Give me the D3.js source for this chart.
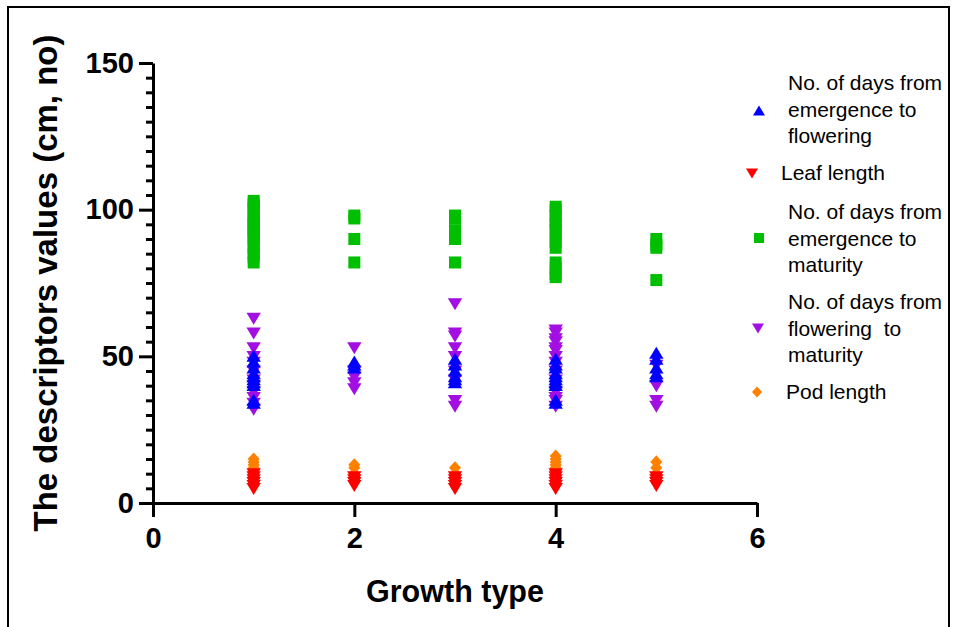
<!DOCTYPE html>
<html>
<head>
<meta charset="utf-8">
<script src="https://cdn.jsdelivr.net/npm/d3@7"></script>
<style>
  body { margin: 0; background: #fff; }
  svg { display: block; font-family: "Liberation Sans", Arial, sans-serif; }
</style>
</head>
<body>
<div id="chart"></div>
<script>
const width = 957;
const height = 627;

// growth types on the x axis
const growthTypes = [1, 2, 3, 4, 5];

// values per growth type (same order as growthTypes)
const emergenceToFlowering = [
  [50, 48, 46, 44, 43, 42, 41, 40, 35, 34],
  [48, 47, 46],
  [49, 47, 45, 43, 42, 41],
  [49, 47, 46, 44, 43, 42, 41, 40, 35, 34],
  [51, 49, 46, 44, 43]
];
const leafLength = [
  [10, 9, 8, 7, 6, 5],
  [9, 8, 7, 6],
  [9, 8, 7, 6, 5],
  [10, 9, 8, 7, 6, 5],
  [9, 8, 7, 6]
];
const emergenceToMaturity = [
  [103, 102, 101, 100, 98, 97, 96, 95, 94, 93, 92, 91, 90, 88, 87, 85, 84, 82],
  [98, 97, 90, 82],
  [98, 97, 93, 92, 90, 82],
  [101, 100, 98, 96, 95, 93, 91, 89, 87, 82, 80, 78, 77],
  [90, 88, 87, 76]
];
const floweringToMaturity = [
  [63, 58, 53, 50, 48, 45, 42, 40, 38, 36, 34, 32],
  [53, 45, 43, 41, 39],
  [68, 58, 57, 53, 50, 45, 42, 35, 33],
  [59, 58, 56, 55, 53, 52, 50, 48, 45, 42, 38, 36, 35, 33],
  [47, 40, 35, 33]
];
const podLength = [
  [15, 14, 13, 12, 11, 10],
  [13, 12, 10],
  [12, 10],
  [16, 15, 14, 13, 12, 11],
  [14, 12, 10]
];

const xTicks = [0, 2, 4, 6];
const yTicks = [0, 50, 100, 150];

// custom marker shapes
const triUp = {
  draw(ctx, s) {
    ctx.moveTo(0, -s * 0.55); ctx.lineTo(s * 0.6, s * 0.45); ctx.lineTo(-s * 0.6, s * 0.45); ctx.closePath();
  }
};
const triDown = {
  draw(ctx, s) {
    ctx.moveTo(0, s * 0.55); ctx.lineTo(s * 0.6, -s * 0.45); ctx.lineTo(-s * 0.6, -s * 0.45); ctx.closePath();
  }
};
const square = {
  draw(ctx, s) { ctx.rect(-s * 0.5, -s * 0.5, s, s); }
};
const diamond = {
  draw(ctx, s) {
    ctx.moveTo(0, -s * 0.55); ctx.lineTo(s * 0.5, 0); ctx.lineTo(0, s * 0.55); ctx.lineTo(-s * 0.5, 0); ctx.closePath();
  }
};

const series = [
  { name: ["No. of days from", "emergence to", "flowering"], data: emergenceToFlowering, color: "#0000ff", shape: triUp },
  { name: ["Leaf length"], data: leafLength, color: "#ff0000", shape: triDown },
  { name: ["No. of days from", "emergence to", "maturity"], data: emergenceToMaturity, color: "#00bf00", shape: square },
  { name: ["No. of days from", "flowering  to", "maturity"], data: floweringToMaturity, color: "#a30fe3", shape: triDown },
  { name: ["Pod length"], data: podLength, color: "#ff7f00", shape: diamond }
];

const svg = d3.select("#chart")
  .append("svg")
  .attr("width", width)
  .attr("height", height);

// outer frame
svg.append("rect")
  .attr("x", 8).attr("y", 7)
  .attr("width", 941).attr("height", 700)
  .attr("fill", "none")
  .attr("stroke", "#000")
  .attr("stroke-width", 2);

const x = d3.scaleLinear().domain([0, 6]).range([153, 757]);
const y = d3.scaleLinear().domain([0, 150]).range([503, 63]);

// y axis: minor ticks every 5, major every 50
svg.append("g")
  .attr("transform", `translate(${x(0)},0)`)
  .call(d3.axisLeft(y).tickValues(d3.range(0, 151, 5).filter(v => v % 50 !== 0)).tickSize(7).tickFormat(""))
  .call(g => g.select(".domain").remove())
  .call(g => g.selectAll("line").attr("stroke-width", 3));

const yAxis = svg.append("g")
  .attr("transform", `translate(${x(0)},0)`)
  .call(d3.axisLeft(y).tickValues(yTicks).tickSize(14).tickSizeOuter(0).tickPadding(5).tickFormat(d3.format("d")))
  .call(g => g.select(".domain").attr("stroke-width", 3))
  .call(g => g.selectAll("line").attr("stroke-width", 3));
yAxis.selectAll("text")
  .attr("font-size", 29).attr("font-weight", "bold").attr("fill", "#000")
  .attr("font-family", "Liberation Sans, Arial, sans-serif");

// x axis
const xAxis = svg.append("g")
  .attr("transform", `translate(0,${y(0)})`)
  .call(d3.axisBottom(x).tickValues(xTicks).tickSize(14).tickSizeOuter(0).tickPadding(10).tickFormat(d3.format("d")))
  .call(g => g.select(".domain").attr("stroke-width", 3))
  .call(g => g.selectAll("line").attr("stroke-width", 3));
xAxis.selectAll("text")
  .attr("font-size", 29).attr("font-weight", "bold").attr("fill", "#000")
  .attr("font-family", "Liberation Sans, Arial, sans-serif");

// axis titles
svg.append("text")
  .attr("x", x(3)).attr("y", 602)
  .attr("text-anchor", "middle")
  .attr("font-size", 30.5).attr("font-weight", "bold")
  .text("Growth type");

svg.append("text")
  .attr("transform", `translate(57,${(y(0) + y(150)) / 2}) rotate(-90)`)
  .attr("text-anchor", "middle")
  .attr("font-size", 33).attr("font-weight", "bold")
  .text("The descriptors values (cm, no)");

// points, last series drawn first so the first one sits on top
const plotSeries = series.slice().reverse();
plotSeries.forEach(s => {
  const pts = [];
  growthTypes.forEach((gt, i) => s.data[i].forEach(v => pts.push([gt, v])));
  svg.append("g")
    .selectAll("path")
    .data(pts)
    .enter()
    .append("path")
    .attr("d", d3.symbol().type(s.shape).size(12))
    .attr("transform", d => `translate(${x(d[0])},${y(d[1])})`)
    .attr("fill", s.color);
});

// legend
const legendRows = [
  { mx: 759, my: 111, tx: 788, ty: 83 },
  { mx: 752, my: 173, tx: 781, ty: 173 },
  { mx: 759, my: 238, tx: 788, ty: 212 },
  { mx: 758, my: 328, tx: 788, ty: 302 },
  { mx: 757, my: 392, tx: 786, ty: 392 }
];
series.forEach((s, i) => {
  const r = legendRows[i];
  svg.append("path")
    .attr("d", d3.symbol().type(s.shape).size(10))
    .attr("transform", `translate(${r.mx},${r.my})`)
    .attr("fill", s.color);
  const t = svg.append("text")
    .attr("x", r.tx).attr("y", r.ty)
    .attr("font-size", 21)
    .attr("fill", "#000");
  s.name.forEach((line, j) => {
    t.append("tspan")
      .attr("x", r.tx)
      .attr("y", r.ty + j * 26.5)
      .attr("dy", "0.35em")
      .style("white-space", "pre")
      .text(line);
  });
});
</script>
</body>
</html>
